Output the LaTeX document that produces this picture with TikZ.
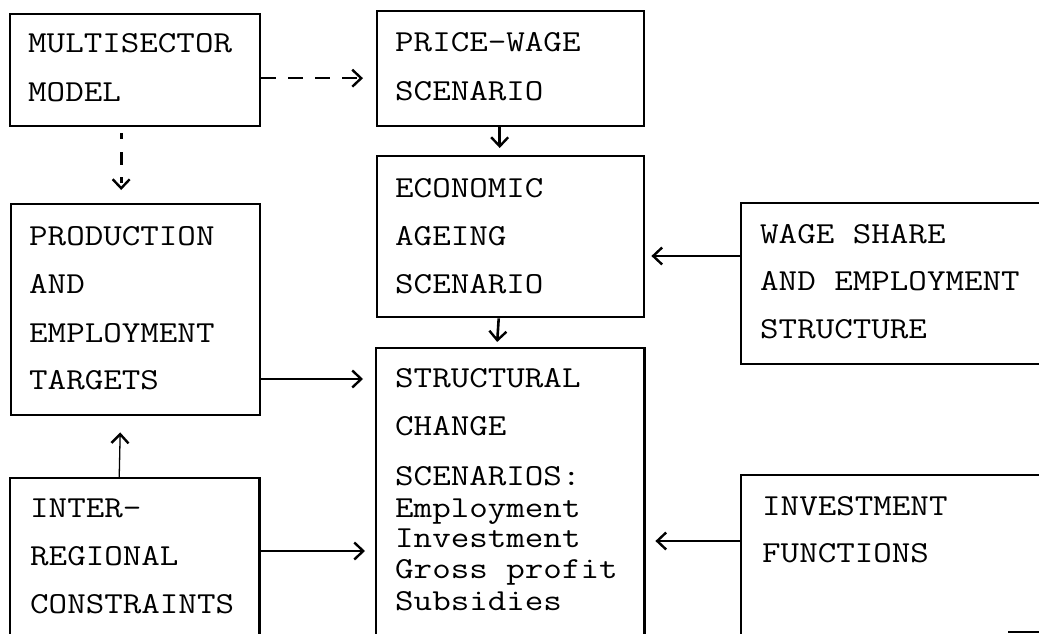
\documentclass[tikz,border=0pt]{standalone}
\usepackage{graphicx}
\usetikzlibrary{arrows.meta,calc}
\newcommand\cwide[1]{\scalebox{1.18}[1]{#1}}
\begin{document}
\begin{tikzpicture}[x=1pt,y=-1pt,
  boxnode/.style={draw,line width=2.4pt,rectangle,anchor=north west,inner sep=0pt},
  openbox/.style={rectangle,anchor=north west,inner sep=0pt},
  txt/.style={anchor=base west,inner sep=0pt,font=\ttfamily\fontsize{30.5}{30.5}\selectfont},
  conn/.style={line width=2.6pt,-{Straight Barb[length=9pt,width=17pt,line width=2.4pt]}},
  dconn/.style={conn,dash pattern=on 15pt off 12pt},
  thinconn/.style={line width=1.3pt,-{Straight Barb[length=9pt,width=17pt,line width=2.4pt]}}]
\clip (0,0) rectangle (1039,634);
\fill[white] (0,0) rectangle (1039,634);
% boxes
\node[boxnode,minimum width=250pt,minimum height=112pt] (ms) at (9,13) {};
\node[boxnode,minimum width=267pt,minimum height=115pt] (pw) at (376,10) {};
\node[boxnode,minimum width=267pt,minimum height=161pt] (ea) at (376,155) {};
\node[boxnode,minimum width=249pt,minimum height=211pt] (pe) at (10,203) {};
\node[boxnode,minimum width=330pt,minimum height=161pt] (ws) at (740,202) {};
\node[openbox,minimum width=268pt,minimum height=300pt] (sc) at (376,348) {};
\node[openbox,minimum width=249pt,minimum height=170pt] (ir) at (10,478) {};
\node[openbox,minimum width=330pt,minimum height=170pt] (inv) at (741,475) {};
\draw[line width=2.4pt] (sc.south west) -- (sc.north west) -- (sc.north east) -- (sc.south east);
\draw[line width=2.4pt] (ir.south west) -- (ir.north west) -- (ir.north east) -- (ir.south east);
\draw[line width=2.4pt] (inv.south west) -- (inv.north west) -- (inv.north east);
\coordinate (m1) at (1008,632);
\coordinate (m2) at (1039,632);
\draw[line width=2pt] (m1) -- (m2);
% texts
\node[txt] at (28,53) {\cwide{MULTISECTOR}};
\node[txt] at (28,101) {\cwide{MODEL}};
\node[txt] at (395,52) {\cwide{PRICE-WAGE}};
\node[txt] at (395,100) {\cwide{SCENARIO}};
\node[txt] at (395,197) {\cwide{ECONOMIC}};
\node[txt] at (395,245) {\cwide{AGEING}};
\node[txt] at (395,293) {\cwide{SCENARIO}};
\node[txt] at (29,245) {\cwide{PRODUCTION}};
\node[txt] at (29,293) {\cwide{AND}};
\node[txt] at (29,342) {\cwide{EMPLOYMENT}};
\node[txt] at (29,389) {\cwide{TARGETS}};
\node[txt] at (760,243) {\cwide{WAGE SHARE}};
\node[txt] at (760,290) {\cwide{AND EMPLOYMENT}};
\node[txt] at (760,338) {\cwide{STRUCTURE}};
\node[txt] at (395,387) {\cwide{STRUCTURAL}};
\node[txt] at (395,435) {\cwide{CHANGE}};
\node[txt] at (395,485) {\cwide{SCENARIOS:}};
\node[txt] at (395,517) {\cwide{Employment}};
\node[txt] at (395,547) {\cwide{Investment}};
\node[txt] at (395,578) {\cwide{Gross profit}};
\node[txt] at (395,610) {\cwide{Subsidies}};
\node[txt] at (30,517) {\cwide{INTER-}};
\node[txt] at (30,565) {\cwide{REGIONAL}};
\node[txt] at (30,613) {\cwide{CONSTRAINTS}};
\node[txt] at (762,515) {\cwide{INVESTMENT}};
\node[txt] at (762,562) {\cwide{FUNCTIONS}};
% connectors
\draw[dconn] ($(ms.east)+(0,8)$) -- ($(pw.west |- ms.east)+(-13,8)$);
\draw[dconn,dash pattern=on 6pt off 13pt on 13pt off 12pt] ($(ms.south)+(-14,6)$) -- ($(pe.north)+(-14.5,-13)$);
\draw[conn] ($(pw.south)+(-11,0)$) -- ($(ea.north)+(-11,-7)$);
\draw[conn] ($(ea.south)+(-12,0)$) -- ($(sc.north)+(-13,-6)$);
\draw[conn] (ws.west |- 0,256) -- ($(ea.east |- 0,256)+(6,0)$);
\draw[conn] (pe.east |- 0,379) -- ($(sc.west |- 0,379)+(-13,0)$);
\draw[conn] (ir.east |- 0,551) -- ($(sc.west |- 0,551)+(-11,0)$);
\draw[conn] (inv.west |- 0,541) -- ($(sc.east |- 0,541)+(11,0)$);
\draw[thinconn] ($(ir.north)+(-15.5,0)$) -- ($(pe.south)+(-15.5,16)$);
\end{tikzpicture}
\end{document}
